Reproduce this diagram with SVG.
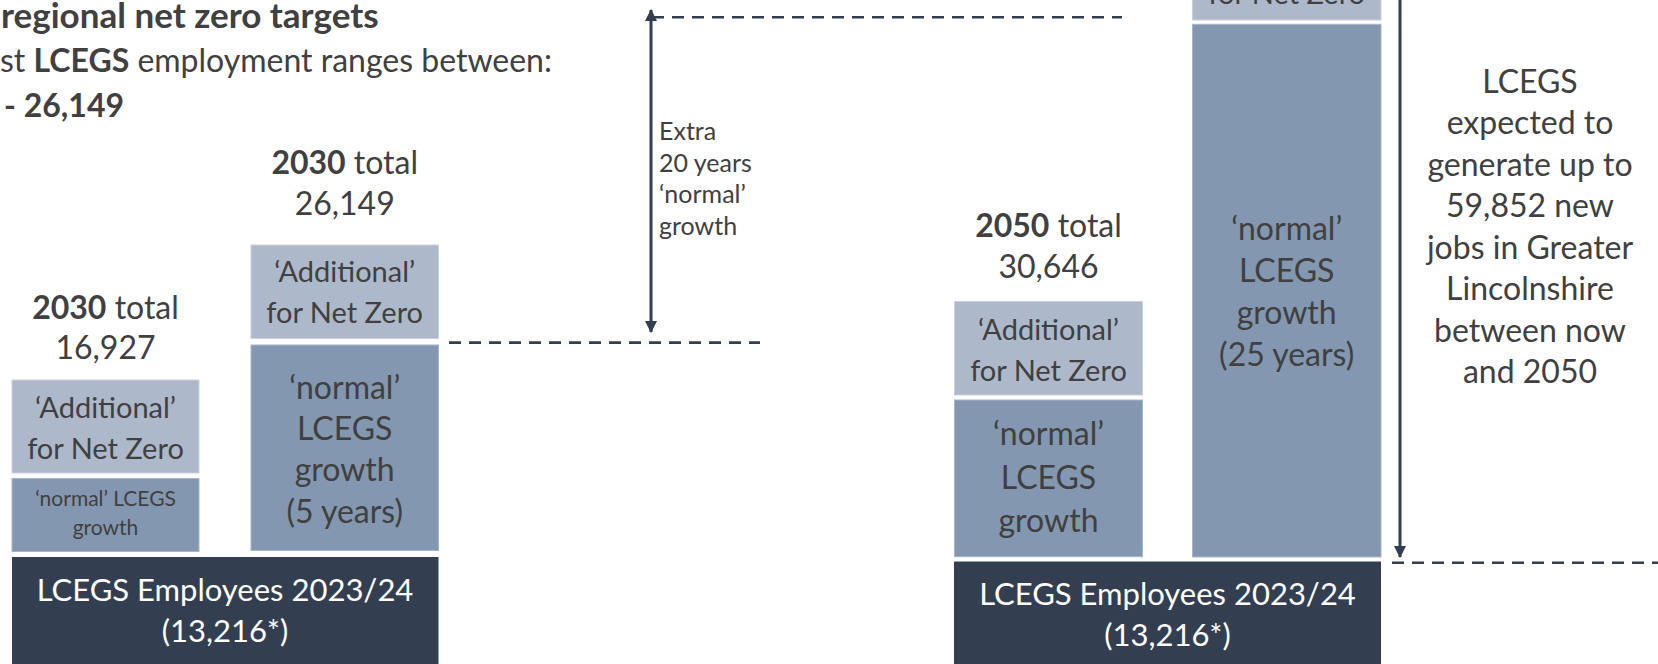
<svg xmlns="http://www.w3.org/2000/svg" width="1658" height="664" viewBox="0 0 1658 664">
<style>
text{font-family:Lato,"Open Sans","Liberation Sans",sans-serif;fill:#404040}
.c{text-anchor:middle}
.f34{font-size:32px}
.f30{font-size:29px}
.f23{font-size:21px}
.f26{font-size:25px}
.b{font-weight:700}
.w{fill:#ffffff;font-size:31px}
.lt{fill:#ADB9CA;stroke:#C9D1DC;stroke-width:1}
.md{fill:#8497B0;stroke:#A9B6C8;stroke-width:1}
.dk{fill:#333F50}
.dash{stroke:#333F50;stroke-width:2.6;stroke-dasharray:12 8;fill:none}
.arr{stroke:#333F50;stroke-width:3;fill:none}
</style>
<defs>
<marker id="ah" viewBox="0 0 12 12" refX="11" refY="6" markerWidth="12" markerHeight="12" markerUnits="userSpaceOnUse" orient="auto-start-reverse">
<path d="M0,0 L12,6 L0,12 Z" fill="#333F50"/>
</marker>
</defs>
<rect width="1658" height="664" fill="#ffffff"/>

<g id="title">
<text x="1" y="28" style="font-size:35px" class="b">regional net zero targets</text>
<text x="0" y="72" class="f34">st <tspan class="b">LCEGS</tspan> employment ranges between:</text>
<text x="4" y="117" class="f34 b">- 26,149</text>
</g>

<g id="label-2030-a">
<text x="105.5" y="319" class="f34 c"><tspan class="b">2030</tspan> total</text>
<text x="105.5" y="359" class="f34 c">16,927</text>
</g>
<g id="box-2030a-additional">
<rect x="12" y="380" width="187" height="93" class="lt"/>
<text x="105.5" y="418" class="f30 c">‘Additional’</text>
<text x="105.5" y="459" class="f30 c">for Net Zero</text>
</g>
<g id="box-2030a-normal">
<rect x="12" y="478.5" width="187" height="73" class="md"/>
<text x="105.5" y="506" class="f23 c">‘normal’ LCEGS</text>
<text x="105.5" y="535" class="f23 c">growth</text>
</g>

<g id="label-2030-b">
<text x="344.7" y="174" class="f34 c"><tspan class="b">2030</tspan> total</text>
<text x="344.7" y="215" class="f34 c">26,149</text>
</g>
<g id="box-2030b-additional">
<rect x="251" y="245" width="187.5" height="93.5" class="lt"/>
<text x="344.7" y="282" class="f30 c">‘Additional’</text>
<text x="344.7" y="323" class="f30 c">for Net Zero</text>
</g>
<g id="box-2030b-normal">
<rect x="251" y="345" width="187.5" height="205.5" class="md"/>
<text x="344.7" y="399" class="f34 c">‘normal’</text>
<text x="344.7" y="440" class="f34 c">LCEGS</text>
<text x="344.7" y="481" class="f34 c">growth</text>
<text x="344.7" y="523" class="f34 c">(5 years)</text>
</g>

<g id="box-base-left">
<rect x="12" y="557" width="426.5" height="110" class="dk"/>
<text x="225" y="601" class="c w">LCEGS Employees 2023/24</text>
<text x="225" y="642" class="c w">(13,216*)</text>
</g>

<g id="note-extra">
<text x="659" y="140" class="f26">Extra</text>
<text x="659" y="171.5" class="f26">20 years</text>
<text x="659" y="203" class="f26">‘normal’</text>
<text x="659" y="235" class="f26">growth</text>
</g>

<g id="label-2050">
<text x="1048.5" y="237" class="f34 c"><tspan class="b">2050</tspan> total</text>
<text x="1048.5" y="278" class="f34 c">30,646</text>
</g>
<g id="box-2050-additional">
<rect x="954.5" y="301.5" width="188" height="93.5" class="lt"/>
<text x="1048.5" y="340" class="f30 c">‘Additional’</text>
<text x="1048.5" y="381" class="f30 c">for Net Zero</text>
</g>
<g id="box-2050-normal">
<rect x="954.5" y="400" width="188" height="156.7" class="md"/>
<text x="1048.5" y="445" class="f34 c">‘normal’</text>
<text x="1048.5" y="489" class="f34 c">LCEGS</text>
<text x="1048.5" y="532" class="f34 c">growth</text>
</g>

<g id="box-tall-additional">
<rect x="1192.5" y="-80" width="188.5" height="100" class="lt"/>
<text x="1286.7" y="4" class="f30 c">for Net Zero</text>
</g>
<g id="box-tall-normal">
<rect x="1192.5" y="24.3" width="188.5" height="532.7" class="md"/>
<text x="1286.7" y="240" class="f34 c">‘normal’</text>
<text x="1286.7" y="282" class="f34 c">LCEGS</text>
<text x="1286.7" y="324" class="f34 c">growth</text>
<text x="1286.7" y="366" class="f34 c">(25 years)</text>
</g>

<g id="box-base-right">
<rect x="954" y="561.5" width="427" height="110" class="dk"/>
<text x="1167.5" y="605" class="c w">LCEGS Employees 2023/24</text>
<text x="1167.5" y="646" class="c w">(13,216*)</text>
</g>

<g id="note-right">
<text x="1530" y="92.5" class="f34 c">LCEGS</text>
<text x="1530" y="134" class="f34 c">expected to</text>
<text x="1530" y="175.5" class="f34 c">generate up to</text>
<text x="1530" y="217" class="f34 c">59,852 new</text>
<text x="1530" y="258.5" class="f34 c">jobs in Greater</text>
<text x="1530" y="300" class="f34 c">Lincolnshire</text>
<text x="1530" y="341.5" class="f34 c">between now</text>
<text x="1530" y="383" class="f34 c">and 2050</text>
</g>

<g id="connectors">
<line x1="652" y1="17.3" x2="1122" y2="17.3" class="dash"/>
<line x1="449" y1="342.6" x2="760" y2="342.6" class="dash"/>
<line x1="1392" y1="562.7" x2="1658" y2="562.7" class="dash"/>
<line x1="651" y1="10" x2="651" y2="332" class="arr" marker-start="url(#ah)" marker-end="url(#ah)"/>
<line x1="1400" y1="-10" x2="1400" y2="557" class="arr" marker-end="url(#ah)"/>
</g>
</svg>
